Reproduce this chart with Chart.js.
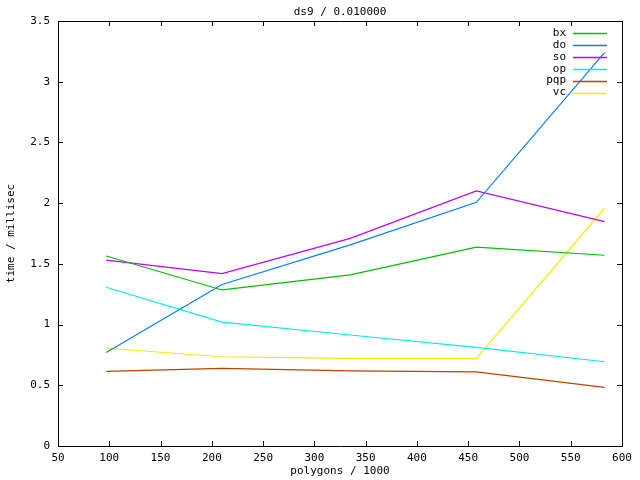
<!DOCTYPE html>
<html>
<head>
<meta charset="utf-8">
<script src="https://cdn.jsdelivr.net/npm/chart.js@4/dist/chart.umd.min.js"></script>
<style>
  html, body { margin: 0; padding: 0; background: #fff; }
  #wrap { width: 640px; height: 480px; }
</style>
</head>
<body>
<div id="wrap"><canvas id="timeChart" width="640" height="480"></canvas></div>
<script>

var polygons = [97, 210, 335, 458, 583];

var bxTimes  = [1.565, 1.285, 1.41, 1.637, 1.571];
var doTimes  = [0.77, 1.33, 1.656, 2.007, 3.24];
var soTimes  = [1.53, 1.42, 1.71, 2.10, 1.848];
var opTimes  = [1.307, 1.02, 0.914, 0.813, 0.694];
var pqpTimes = [0.615, 0.64, 0.618, 0.61, 0.483];
var vcTimes  = [0.805, 0.735, 0.722, 0.722, 1.958];

var seriesNames  = ["bx", "do", "so", "op", "pqp", "vc"];
var seriesColors = ["#00c000", "#0080ff", "#c000ff", "#00eeee", "#c04000", "#eeee00"];

var xTicksMin = 50, xTicksMax = 600, xStep = 50;
var yTicksMin = 0, yTicksMax = 3.5, yStep = 0.5;

var FONT = "'DejaVu Sans Mono', 'Liberation Mono', monospace";

function toPoints(values) {
  var pts = [];
  for (var i = 0; i < polygons.length; i++) {
    pts.push({ x: polygons[i], y: values[i] });
  }
  return pts;
}

// gnuplot look: box border, inward ticks on all four sides, title, key
var gnuplotPlugin = {
  id: "gnuplotLook",
  afterDraw: function(chart) {
    var ctx = chart.ctx;
    var area = chart.chartArea;
    var xs = chart.scales.x;
    var ys = chart.scales.y;
    var tick = 5;

    ctx.save();
    ctx.strokeStyle = "#000";
    ctx.lineWidth = 1;
    ctx.beginPath();
    ctx.rect(Math.round(area.left) + 0.5, Math.round(area.top) + 0.5,
             Math.round(area.right - area.left), Math.round(area.bottom - area.top));

    for (var v = xTicksMin; v <= xTicksMax; v += xStep) {
      var px = Math.round(xs.getPixelForValue(v)) + 0.5;
      ctx.moveTo(px, area.bottom);
      ctx.lineTo(px, area.bottom - tick);
      ctx.moveTo(px, area.top);
      ctx.lineTo(px, area.top + tick);
    }
    for (var w = yTicksMin; w <= yTicksMax + 1e-9; w += yStep) {
      var py = Math.round(ys.getPixelForValue(w)) + 0.5;
      ctx.moveTo(area.left, py);
      ctx.lineTo(area.left + tick, py);
      ctx.moveTo(area.right, py);
      ctx.lineTo(area.right - tick, py);
    }
    ctx.stroke();

    // title
    ctx.fillStyle = "#000";
    ctx.font = "11px " + FONT;
    ctx.textAlign = "center";
    ctx.textBaseline = "middle";
    ctx.fillText("ds9 / 0.010000", (area.left + area.right) / 2, 12);

    // key
    var sets = chart.data.datasets;
    for (var i = 0; i < sets.length; i++) {
      var y = 33 + i * 11.9;
      ctx.fillStyle = "#000";
      ctx.textAlign = "right";
      ctx.fillText(sets[i].label, 566, y);
      ctx.strokeStyle = seriesColors[i];
      ctx.lineWidth = 1.3;
      ctx.beginPath();
      ctx.moveTo(573, Math.round(y) + 0.5);
      ctx.lineTo(607, Math.round(y) + 0.5);
      ctx.stroke();
    }
    ctx.restore();
  }
};

function printChart() {

  var allTimes = [bxTimes, doTimes, soTimes, opTimes, pqpTimes, vcTimes];
  var datasets = [];

  for (var i = 0; i < seriesNames.length; i++) {
    datasets.push({
      label: seriesNames[i],
      data: toPoints(allTimes[i]),
      borderColor: seriesColors[i],
      backgroundColor: seriesColors[i],
      borderWidth: 1.2,
      pointRadius: 0,
      tension: 0,
      fill: false
    });
  }

  Chart.defaults.font.family = FONT;
  Chart.defaults.font.size = 11;
  Chart.defaults.color = "#000";

  var ctx = document.getElementById("timeChart").getContext("2d");
  var chart = new Chart(ctx, {
    type: "line",
    data: { datasets: datasets },
    options: {
      responsive: false,
      animation: false,
      layout: { padding: { top: 21, right: 18, left: 0, bottom: 0 } },
      plugins: {
        legend: { display: false },
        tooltip: { enabled: false }
      },
      scales: {
        x: {
          type: "linear",
          min: xTicksMin,
          max: xTicksMax,
          border: { display: false },
          grid: { display: false, drawTicks: false },
          ticks: { stepSize: xStep, padding: 6, maxRotation: 0, autoSkip: false },
          title: { display: true, text: "polygons / 1000", padding: { top: 0, bottom: 2 } },
          afterFit: function(scale) { scale.height = 34; }
        },
        y: {
          min: yTicksMin,
          max: yTicksMax,
          border: { display: false },
          grid: { display: false, drawTicks: false },
          ticks: {
            stepSize: yStep,
            padding: 8,
            autoSkip: false,
            callback: function(value) { return String(+value.toFixed(1)); }
          },
          title: { display: true, text: "time / millisec", padding: { top: 5, bottom: 0 } },
          afterFit: function(scale) { scale.width = 58; }
        }
      }
    },
    plugins: [gnuplotPlugin]
  });
}

printChart();

</script>
</body>
</html>
